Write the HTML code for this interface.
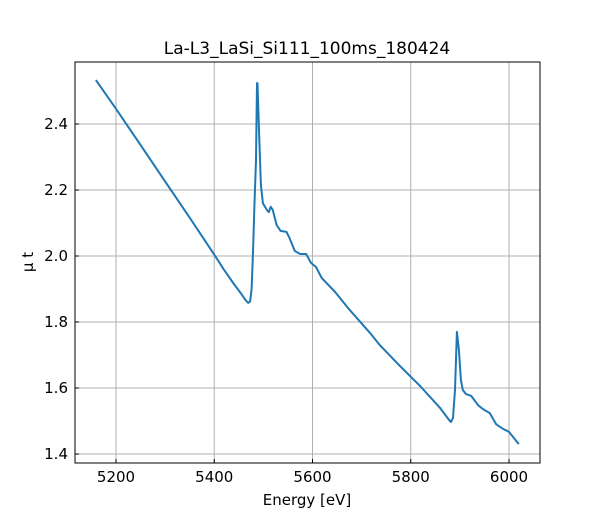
<!DOCTYPE html>
<html><head><meta charset="utf-8"><style>
body{margin:0;background:#fff;font-family:"Liberation Sans","DejaVu Sans",sans-serif}
svg text{font-family:"DejaVu Sans","Liberation Sans",sans-serif}
</style></head><body>
<svg id="chart" width="600" height="520" xmlns="http://www.w3.org/2000/svg">
<rect width="600" height="520" fill="#fff"/>
<g id="grid"></g>
<path id="line" fill="none" stroke="#1f77b4" stroke-width="2" stroke-linejoin="round"/>
<rect x="75" y="62" width="465" height="401" fill="none" stroke="#000" stroke-width="1"/>
<g id="ticks"></g>
<text x="307" y="54" text-anchor="middle" font-size="17">La-L3_LaSi_Si111_100ms_180424</text>
<text x="307" y="505" text-anchor="middle" font-size="15">Energy [eV]</text>
<text transform="translate(33,262) rotate(-90)" text-anchor="middle" font-size="15">μ t</text>
</svg>
<script>
const energy=[5159,5200,5250,5300,5350,5400,5420,5440,5455,5463,5469,5473,5476,5479,5482,5485,5487,5488,5491,5495,5499,5507,5511,5515,5519,5527,5535,5547,5553,5564,5575,5587,5597,5607,5619,5646,5676,5717,5737,5778,5819,5860,5878,5882,5886,5890,5894,5898,5902,5906,5912,5923,5937,5947,5961,5974,5988,6000,6020];
const mu=[2.533,2.446,2.336,2.226,2.116,2.004,1.958,1.915,1.885,1.868,1.858,1.862,1.9,2.02,2.16,2.29,2.524,2.524,2.38,2.215,2.16,2.14,2.133,2.149,2.14,2.094,2.076,2.073,2.055,2.015,2.006,2.006,1.979,1.967,1.933,1.891,1.836,1.767,1.73,1.667,1.606,1.539,1.503,1.497,1.51,1.594,1.77,1.715,1.624,1.594,1.582,1.576,1.548,1.536,1.524,1.49,1.476,1.467,1.43];
const xTicks=[5200,5400,5600,5800,6000];
const yTicks=[1.4,1.6,1.8,2.0,2.2,2.4];
const X=v=>116+(v-5200)*0.49125;
const Y=v=>124-(v-2.4)*330;
const NS='http://www.w3.org/2000/svg';
const grid=document.getElementById('grid'),ticks=document.getElementById('ticks');
function mk(p,tag,a){const e=document.createElementNS(NS,tag);for(const k in a)e.setAttribute(k,a[k]);p.appendChild(e);return e;}
xTicks.forEach(t=>{const x=X(t);
const g=mk(grid,'line',{x1:x,x2:x,y1:62,y2:463,stroke:'#b0b0b0','stroke-width':1});


mk(ticks,'line',{x1:x,x2:x,y1:463,y2:459,stroke:'#000'});
const l=mk(ticks,'text',{x:x,y:482,'text-anchor':'middle','font-size':'15'});l.textContent=t;

});
yTicks.forEach(t=>{const y=Y(t);
const g=mk(grid,'line',{x1:75,x2:540,y1:y,y2:y,stroke:'#b0b0b0','stroke-width':1});


mk(ticks,'line',{x1:75,x2:79,y1:y,y2:y,stroke:'#000'});
const l=mk(ticks,'text',{x:68,y:y+5,'text-anchor':'end','font-size':'15'});l.textContent=t.toFixed(1);

});
document.getElementById('line').setAttribute('d',energy.map((e,i)=>(i?'L':'M')+X(e).toFixed(1)+','+Y(mu[i]).toFixed(1)).join(''));
</script>
</body></html>
